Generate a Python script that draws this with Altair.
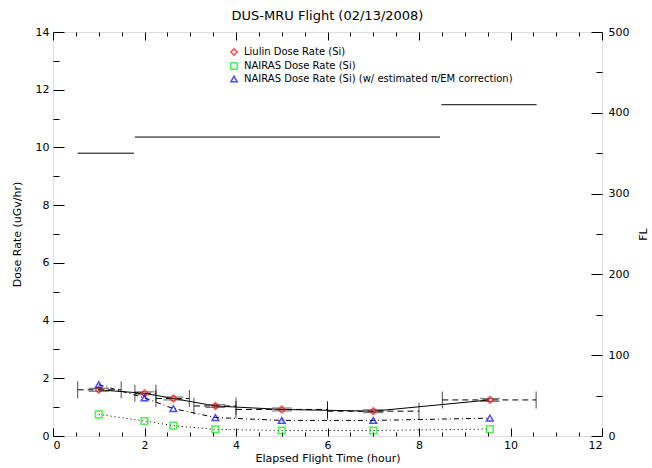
import altair as alt
import pandas as pd

# ---- data ----
hours = [1.0, 2.0, 2.63, 3.55, 5.0, 7.0, 9.55]
liulin = [1.60, 1.48, 1.30, 1.04, 0.92, 0.86, 1.25]
liulin_err = [0.05, 0.05, 0.05, 0.05, 0.05, 0.05, 0.05]
nairas = [0.75, 0.52, 0.36, 0.23, 0.19, 0.19, 0.24]
nairas_corr = [1.78, 1.32, 0.95, 0.64, 0.54, 0.54, 0.62]
bin_start = [0.54, 1.79, 2.25, 3.08, 4.0, 6.0, 8.51]
bin_end = [1.49, 2.25, 2.98, 4.0, 6.0, 8.0, 10.56]

fl_start = [0.54, 1.79, 8.49]
fl_end = [1.77, 8.46, 10.57]
fl_level = [350, 370, 410]

series_names = [
    "Liulin Dose Rate (Si)",
    "NAIRAS Dose Rate (Si)",
    "NAIRAS Dose Rate (Si) (w/ estimated \u03c0/EM correction)",
]
series_colors = ["#ff0000", "#00ee00", "#0000ff"]
series_shapes = ["diamond", "square", "triangle-up"]

x_major = [0, 2, 4, 6, 8, 10, 12]
x_minor = [0.5, 1, 1.5, 2.5, 3, 3.5, 4.5, 5, 5.5, 6.5, 7, 7.5, 8.5, 9, 9.5, 10.5, 11, 11.5]
y_major = [0, 2, 4, 6, 8, 10, 12, 14]
y_minor = [1, 3, 5, 7, 9, 11, 13]
fl_major = [0, 100, 200, 300, 400, 500]
fl_minor = [50, 150, 250, 350, 450]

# ---- tables ----
liu = pd.DataFrame({"hour": hours, "value": liulin, "err": liulin_err,
                    "start": bin_start, "end": bin_end})
liu["lo"] = liu["value"] - liu["err"]
liu["hi"] = liu["value"] + liu["err"]
nai = pd.DataFrame({"hour": hours, "value": nairas})
cor = pd.DataFrame({"hour": hours, "value": nairas_corr})
edges = pd.DataFrame({"edge": bin_start + bin_end, "value": liulin + liulin})
fl = pd.DataFrame({"start": fl_start, "end": fl_end, "fl": fl_level})
pts = pd.concat([
    pd.DataFrame({"hour": hours, "value": liulin, "series": series_names[0]}),
    pd.DataFrame({"hour": hours, "value": nairas, "series": series_names[1]}),
    pd.DataFrame({"hour": hours, "value": nairas_corr, "series": series_names[2]}),
])

FONT = "DejaVu Sans"
xs = alt.Scale(domain=[0, 12], nice=False, zero=False)
ys = alt.Scale(domain=[0, 14], nice=False, zero=False)
fs = alt.Scale(domain=[0, 500], nice=False, zero=False)


def tick_axis(orient, values, size, labels=False, title=None, pad=0, **kw):
    args = dict(orient=orient, values=values, tickSize=alt.ExprRef(f"-{size}"),
                labels=labels, domain=False, grid=False, ticks=True,
                tickColor="black", tickWidth=1,
                labelFont=FONT, labelFontSize=11, labelColor="black",
                titleFont=FONT, titleFontSize=11, titleFontWeight="normal",
                titleColor="black")
    if labels:
        args["labelPadding"] = size + pad
    args["title"] = title
    args.update(kw)
    return alt.Axis(**args)


# axes
ax_bottom_major = tick_axis("bottom", x_major, 8, labels=True, pad=3,
                            title="Elapsed Flight Time (hour)", titlePadding=2)
ax_bottom_minor = tick_axis("bottom", x_minor, 4)
ax_top_major = tick_axis("top", x_major, 8)
ax_top_minor = tick_axis("top", x_minor, 4)
ax_left_major = tick_axis("left", y_major, 11, labels=True, pad=4,
                          title="Dose Rate (uGv/hr)", titlePadding=13)
ax_left_minor = tick_axis("left", y_minor, 6)
ax_fl_major = tick_axis("right", fl_major, 11, labels=True, pad=6,
                        title="FL", titlePadding=20, titleAngle=270)
ax_fl_minor = tick_axis("right", fl_minor, 6)

# ---- layers ----
fl_layer = alt.Chart(fl).mark_rule(color="black", strokeWidth=1).encode(
    x=alt.X("start:Q", scale=xs, axis=ax_bottom_major),
    x2="end:Q",
    y=alt.Y("fl:Q", scale=fs, axis=ax_fl_major),
)
fl_axis_layer = alt.Chart(fl).mark_rule(opacity=0).encode(
    x=alt.X("start:Q", scale=xs, axis=ax_top_major),
    x2="end:Q",
    y=alt.Y("fl:Q", scale=fs, axis=ax_fl_minor),
)

bins_layer = alt.Chart(liu).mark_rule(color="black", strokeWidth=1, strokeDash=[6, 4]).encode(
    x=alt.X("start:Q", scale=xs, axis=ax_bottom_minor),
    x2="end:Q",
    y=alt.Y("value:Q", scale=ys, axis=ax_left_major),
)
caps_layer = alt.Chart(edges).mark_tick(orient="vertical", size=17, thickness=1, color="black").encode(
    x=alt.X("edge:Q", scale=xs, axis=ax_top_minor),
    y=alt.Y("value:Q", scale=ys, axis=ax_left_minor),
)

solid_line = alt.Chart(liu).mark_line(color="black", strokeWidth=1).encode(
    x=alt.X("hour:Q", scale=xs, axis=None),
    y=alt.Y("value:Q", scale=ys, axis=None),
)
dotted_line = alt.Chart(nai).mark_line(color="black", strokeWidth=1, strokeDash=[1, 3]).encode(
    x=alt.X("hour:Q", scale=xs, axis=None),
    y=alt.Y("value:Q", scale=ys, axis=None),
)
dashdot_line = alt.Chart(cor).mark_line(color="black", strokeWidth=1, strokeDash=[5, 3, 1, 3]).encode(
    x=alt.X("hour:Q", scale=xs, axis=None),
    y=alt.Y("value:Q", scale=ys, axis=None),
)
err_lo = alt.Chart(liu).mark_tick(orient="horizontal", size=20, thickness=1.2, color="#444444").encode(
    x=alt.X("hour:Q", scale=xs, axis=None),
    y=alt.Y("lo:Q", scale=ys, axis=None),
)
err_hi = alt.Chart(liu).mark_tick(orient="horizontal", size=20, thickness=1.2, color="#444444").encode(
    x=alt.X("hour:Q", scale=xs, axis=None),
    y=alt.Y("hi:Q", scale=ys, axis=None),
)

leg = alt.Legend(title=None, orient="none", legendX=176, legendY=15,
                 labelFont=FONT, labelFontSize=10, labelColor="black", labelLimit=0,
                 symbolSize=40, symbolStrokeWidth=1.5, rowPadding=0,
                 labelOffset=5, padding=0)
points = alt.Chart(pts).mark_point(filled=False, strokeWidth=1.5, size=45).encode(
    x=alt.X("hour:Q", scale=xs, axis=None),
    y=alt.Y("value:Q", scale=ys, axis=None),
    color=alt.Color("series:N", scale=alt.Scale(domain=series_names, range=series_colors), legend=leg),
    shape=alt.Shape("series:N", scale=alt.Scale(domain=series_names, range=series_shapes), legend=leg),
)

chart = alt.layer(
    fl_layer, fl_axis_layer, bins_layer, caps_layer,
    solid_line, dotted_line, dashdot_line, err_lo, err_hi, points,
).resolve_scale(
    y="independent"
).resolve_axis(
    x="independent", y="independent"
).properties(
    width=549, height=404,
    autosize=alt.AutoSizeParams(type="none"),
    padding={"left": 53, "top": 32, "right": 50, "bottom": 32},
    title=alt.TitleParams("DUS-MRU Flight (02/13/2008)", font=FONT, fontSize=13,
                          fontWeight="normal", color="black", offset=3, anchor="middle"),
).configure_view(
    stroke="black", strokeWidth=1
).configure(background="white")

chart.save("out.html", embed_options={"renderer": "svg", "actions": False})
